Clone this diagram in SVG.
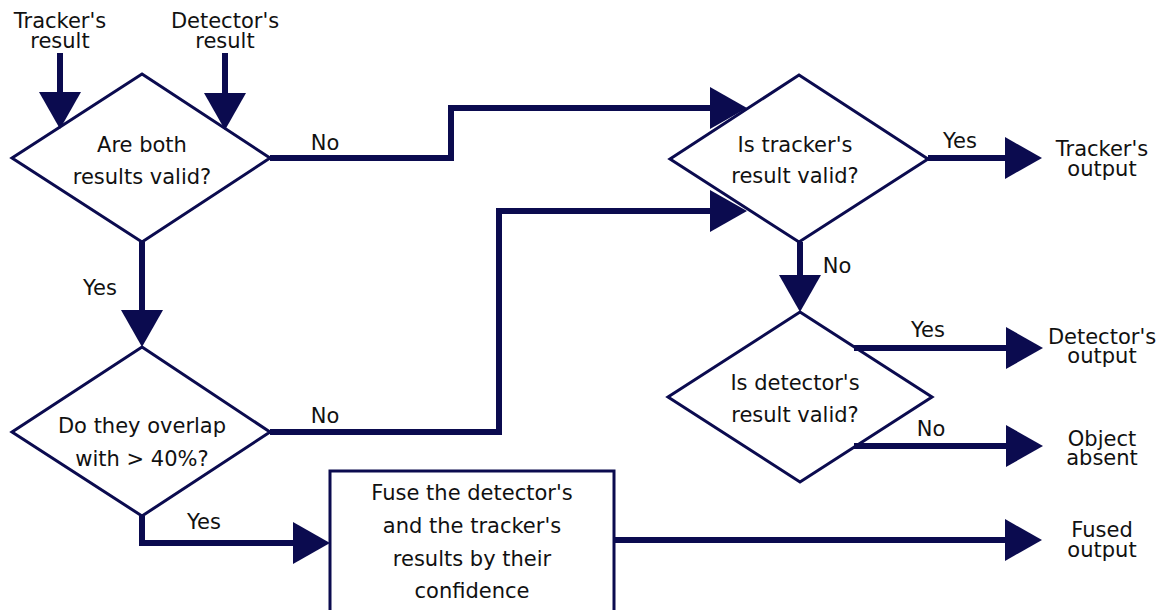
<svg xmlns="http://www.w3.org/2000/svg" width="1169" height="610" viewBox="0 0 1169 610">
<defs>
<style>
.shape{fill:#fff;stroke:#0b0b4f;stroke-width:3}
.conn{fill:none;stroke:#0b0b4f;stroke-width:6}
text{font-family:"DejaVu Sans",sans-serif;font-size:21px;fill:#111;text-anchor:middle}
</style>
<marker id="ah" markerUnits="userSpaceOnUse" markerWidth="40" markerHeight="46" refX="0" refY="21" orient="auto" overflow="visible">
<path d="M0,0 L37,21 L0,42 z" fill="#0b0b4f"/>
</marker>
</defs>
<rect width="1169" height="610" fill="#fff"/>
<g id="n-tracker-in"><text x="60" y="28">Tracker's</text><text x="60" y="48">result</text></g>
<g id="n-detector-in"><text x="225" y="28">Detector's</text><text x="225" y="48">result</text></g>
<g id="n-both"><polygon class="shape" points="142,74 270,158 142,242 12,158"/><text x="142" y="152">Are both</text><text x="142" y="184">results valid?</text></g>
<g id="n-overlap"><polygon class="shape" points="142,347 270,432 142,516 12,432"/><text x="142" y="433">Do they overlap</text><text x="142" y="466">with &gt; 40%?</text></g>
<g id="n-tracker-valid"><polygon class="shape" points="799,75 928,159 799,242 670,159"/><text x="795" y="152">Is tracker's</text><text x="795" y="183">result valid?</text></g>
<g id="n-detector-valid"><polygon class="shape" points="800,312 932,397 800,482 668,397"/><text x="795" y="390">Is detector's</text><text x="795" y="422">result valid?</text></g>
<g id="n-fuse"><rect class="shape" x="330" y="471" width="284" height="160"/><text x="472" y="500">Fuse the detector's</text><text x="472" y="533">and the tracker's</text><text x="472" y="566">results by their</text><text x="472" y="598">confidence</text></g>
<g id="n-tracker-out"><text x="1102" y="156">Tracker's</text><text x="1102" y="176">output</text></g>
<g id="n-detector-out"><text x="1102" y="344">Detector's</text><text x="1102" y="363">output</text></g>
<g id="n-absent"><text x="1102" y="446">Object</text><text x="1102" y="465">absent</text></g>
<g id="n-fused-out"><text x="1102" y="537">Fused</text><text x="1102" y="557">output</text></g>
<g id="connectors">
<path class="conn" d="M60,53 V92" marker-end="url(#ah)"/>
<path class="conn" d="M225,53 V93" marker-end="url(#ah)"/>
<path class="conn" d="M142,242 V310" marker-end="url(#ah)"/>
<path class="conn" d="M270,158 H451 V108 H710" marker-end="url(#ah)"/>
<path class="conn" d="M270,432 H499 V211 H710" marker-end="url(#ah)"/>
<path class="conn" d="M142,516 V543 H293" marker-end="url(#ah)"/>
<path class="conn" d="M928,158 H1005" marker-end="url(#ah)"/>
<path class="conn" d="M800,242 V275" marker-end="url(#ah)"/>
<path class="conn" d="M854,348 H1006" marker-end="url(#ah)"/>
<path class="conn" d="M854,446 H1006" marker-end="url(#ah)"/>
<path class="conn" d="M614,540 H1005" marker-end="url(#ah)"/>
<text x="325" y="150">No</text>
<text x="325" y="423">No</text>
<text x="100" y="295">Yes</text>
<text x="204" y="529">Yes</text>
<text x="960" y="148">Yes</text>
<text x="837" y="273">No</text>
<text x="928" y="337">Yes</text>
<text x="931" y="436">No</text>
</g>
</svg>
